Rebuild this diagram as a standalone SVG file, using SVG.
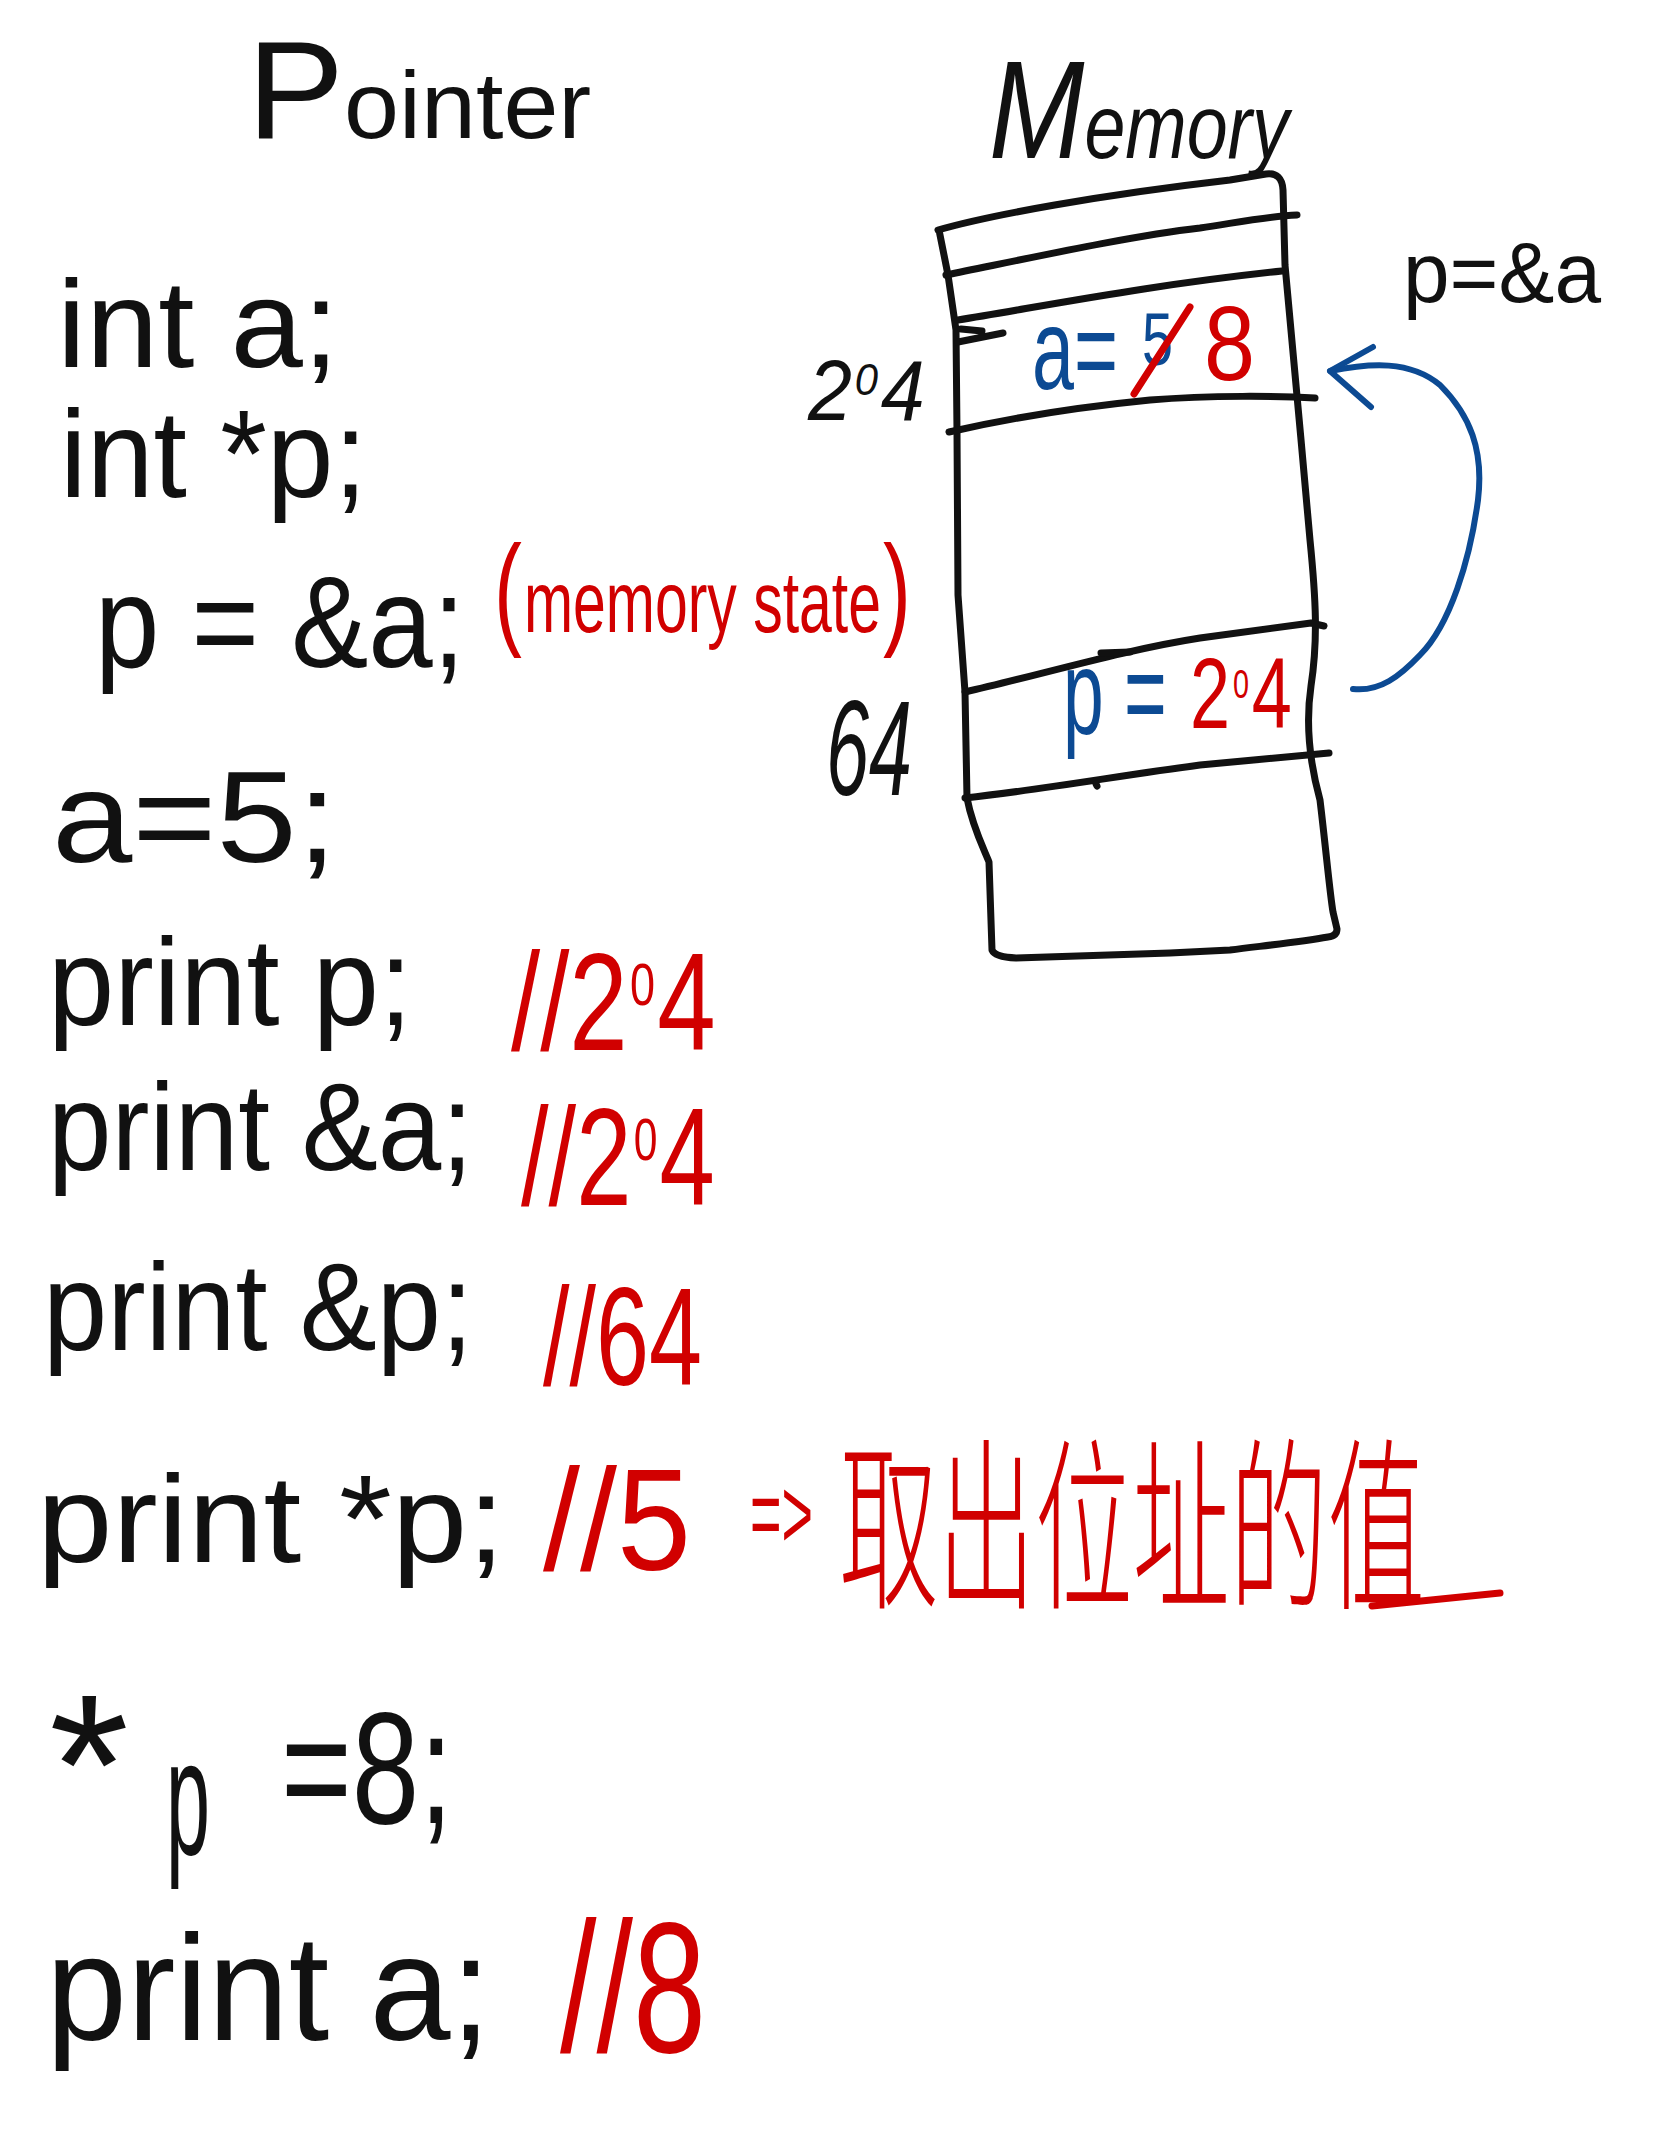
<svg xmlns="http://www.w3.org/2000/svg" width="1668" height="2154" viewBox="0 0 1668 2154">
<style>
text { font-family: "Liberation Sans", "DejaVu Sans", sans-serif; }
.k { fill: #111111; }
.r { fill: #d10000; }
.b { fill: #0c4a93; }
.zh { font-family: "Noto Sans CJK TC", "Noto Sans CJK SC", sans-serif; font-weight: 300; }
.ln { fill: none; stroke: #111111; stroke-width: 7; stroke-linecap: round; stroke-linejoin: round; }
.rl { fill: none; stroke: #d10000; stroke-width: 7; stroke-linecap: round; }
.bl { fill: none; stroke: #0c4a93; stroke-width: 6; stroke-linecap: round; stroke-linejoin: round; }
</style>
<rect x="0" y="0" width="1668" height="2154" fill="#ffffff"/>

<g id="title" transform="translate(247,138) scale(1.04,1)">
<text class="k" x="0" y="0" font-size="95"><tspan font-size="140">P</tspan>ointer</text>
</g>

<g id="code">
<text id="line-int-a" class="k" x="57" y="367" font-size="125" textLength="282" lengthAdjust="spacingAndGlyphs">int a;</text>
<text id="line-int-p" class="k" x="60" y="497" font-size="125" textLength="307" lengthAdjust="spacingAndGlyphs">int *p;</text>
<g id="line-p-addr" transform="translate(95,667) scale(0.89,1)">
<text class="k" x="0" y="0" font-size="130">p = &amp;a;</text>
</g>
<g id="note-state" transform="translate(494,632) scale(0.67,1)">
<text class="r" x="0" y="0" font-size="88"><tspan font-size="125">(</tspan><tspan dx="3">memory state</tspan><tspan dx="3" font-size="125">)</tspan></text>
</g>
<text id="line-a5" class="k" x="52" y="862" font-size="130" textLength="285" lengthAdjust="spacingAndGlyphs">a=5;</text>

<text class="k" x="48" y="1025" font-size="125" textLength="364" lengthAdjust="spacingAndGlyphs">print p;</text>
<g transform="translate(511,1050) scale(0.75,1)">
<text class="r" x="0" y="0" font-size="140">//2<tspan font-size="60" dx="3" dy="-45">0</tspan><tspan dx="3" dy="45">4</tspan></text>
</g>

<text class="k" x="48" y="1170" font-size="125" textLength="425" lengthAdjust="spacingAndGlyphs">print &amp;a;</text>
<g transform="translate(521,1205) scale(0.71,1)">
<text class="r" x="0" y="0" font-size="140">//2<tspan font-size="60" dx="3" dy="-45">0</tspan><tspan dx="3" dy="45">4</tspan></text>
</g>

<text class="k" x="43" y="1350" font-size="125" textLength="430" lengthAdjust="spacingAndGlyphs">print &amp;p;</text>
<text class="r" x="543" y="1385" font-size="140" textLength="159" lengthAdjust="spacingAndGlyphs">//64</text>

<text class="k" x="37" y="1562" font-size="125" textLength="468" lengthAdjust="spacingAndGlyphs">print *p;</text>
<text class="r" x="543" y="1570" font-size="145" textLength="148" lengthAdjust="spacingAndGlyphs">//5</text>
<g transform="translate(750,1548) scale(0.54,1)">
<text class="r" x="0" y="0" font-size="100">=&gt;</text>
</g>
<g transform="translate(840,1595) scale(0.527,1)">
<text class="r zh" x="0" y="0" font-size="185">取出位址的值</text>
</g>
<path class="rl" d="M1372,1606 L1500,1593"/>

<g id="line-deref-assign">
<text class="k" x="49" y="1834" font-size="200" textLength="80" lengthAdjust="spacingAndGlyphs">*</text>
<text class="k" x="166" y="1855" font-size="165" textLength="44" lengthAdjust="spacingAndGlyphs">p</text>
<text class="k" x="281" y="1823" font-size="160" textLength="172" lengthAdjust="spacingAndGlyphs">=8;</text>
</g>

<text class="k" x="46" y="2040" font-size="150" textLength="445" lengthAdjust="spacingAndGlyphs">print a;</text>
<text class="r" x="560" y="2052" font-size="185" textLength="146" lengthAdjust="spacingAndGlyphs">//8</text>
</g>

<g id="memory">
<g transform="translate(989,158) scale(0.818,1)">
<text class="k" x="0" y="0" font-size="90" font-style="italic"><tspan font-size="140">M</tspan>emory</text>
</g>
<path class="ln" d="M938,230 C990,215 1100,195 1230,180 L1266,174 Q1282,172 1283,190 L1285,265 C1292,340 1302,450 1310,540 C1316,600 1318,640 1311,686 C1306,720 1309,760 1320,800 C1326,850 1330,895 1333,912 L1337,929 Q1337,936 1328,937 C1300,942 1270,945 1230,950 L1170,953 L1016,958 Q995,957 992,950 L989,862 C982,845 972,825 967,798 L965,692 L958,595 L957,432 L956,330 L948,275 L939,230"/>
<path class="ln" d="M946,275 C1030,258 1130,236 1200,228 C1240,222 1270,216 1297,215"/>
<path class="ln" d="M958,320 C1050,305 1150,285 1282,271"/>
<path class="ln" d="M958,342 L1003,333 M961,329 L982,331"/>
<path class="ln" d="M949,432 C1010,418 1079,407 1150,400 C1212,395 1280,396 1315,398"/>
<path class="ln" d="M965,692 C1040,675 1123,650 1200,638 L1311,623 L1324,626"/>
<path class="ln" d="M1101,653 L1130,652"/>
<path class="ln" d="M965,798 C1040,790 1123,775 1200,765 L1329,753"/>
<path class="ln" d="M1096,784 L1097,786"/>

<g transform="translate(808,420) scale(0.93,1)">
<text class="k" x="0" y="0" font-size="85" font-style="italic">2<tspan font-size="45" dx="3" dy="-25">0</tspan><tspan dx="3" dy="25">4</tspan></text>
</g>
<text class="k" x="826" y="795" font-size="135" font-style="italic" textLength="86" lengthAdjust="spacingAndGlyphs">64</text>
<text class="k" x="1403" y="302" font-size="85" textLength="198" lengthAdjust="spacingAndGlyphs">p=&amp;a</text>

<g id="cell-a">
<g transform="translate(1032,389) scale(0.656,1)">
<text class="b" x="0" y="0" font-size="115">a=</text>
</g>
<text class="b" x="1142" y="365" font-size="75" textLength="31" lengthAdjust="spacingAndGlyphs">5</text>
<path class="rl" d="M1134,394 L1190,307"/>
<text class="r" x="1204" y="380" font-size="105" textLength="51" lengthAdjust="spacingAndGlyphs">8</text>
</g>
<g id="cell-p">
<g transform="translate(1063,734) scale(0.61,1)">
<text class="b" x="0" y="0" font-size="120">p =</text>
</g>
<g transform="translate(1190,728) scale(0.72,1)">
<text class="r" x="0" y="0" font-size="100">2<tspan font-size="40" dx="4" dy="-30">0</tspan><tspan dx="4" dy="30">4</tspan></text>
</g>
</g>
</g>

<g id="connectors">
<path class="bl" d="M1353,689 C1380,692 1400,676 1420,655 C1450,625 1470,560 1478,500 C1484,450 1470,415 1440,385 C1410,360 1370,363 1330,371"/>
<path class="bl" d="M1373,347 L1330,371 L1371,407"/>
</g>
</svg>
